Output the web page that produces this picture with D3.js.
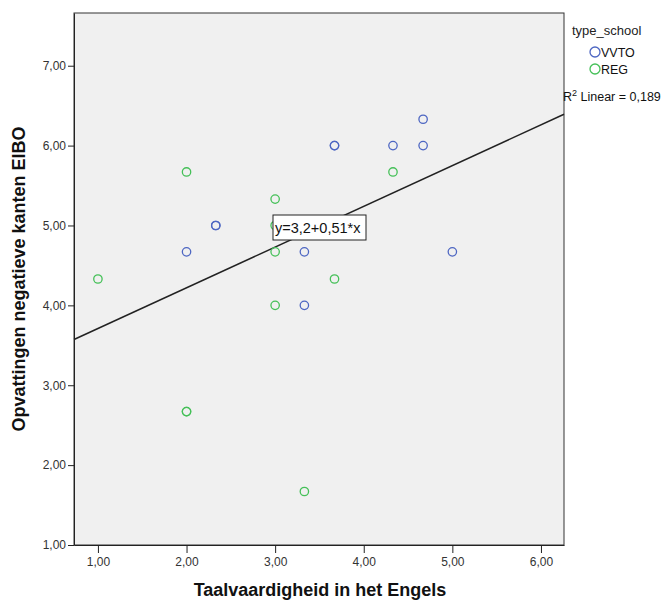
<!DOCTYPE html>
<html><head><meta charset="utf-8">
<script src="https://cdn.jsdelivr.net/npm/d3@7"></script>
<style>body{margin:0;background:#fff}svg{display:block}text{font-family:"Liberation Sans",Arial,sans-serif}</style>
</head><body><svg id="c" width="668" height="600"></svg>
<script>
const xTicks = [1,2,3,4,5,6];
const yTicks = [1,2,3,4,5,6,7];
const vvtoX = [2, 2.33, 2.33, 3.67, 3.67, 4.33, 4.67, 4.67, 3.33, 3.33, 5];
const vvtoY = [4.67, 5, 5, 6, 6, 6, 6.33, 6, 4.67, 4, 4.67];
const regX = [1, 2, 2, 2, 3, 3, 3, 3, 3.67, 4.33, 3.33];
const regY = [4.33, 5.67, 2.67, 2.67, 5.33, 5, 4.67, 4, 4.33, 5.67, 1.67];
const seriesNames = ["VVTO", "REG"];
const fitIntercept = 3.2, fitSlope = 0.51;
const fitLabel = "y=3,2+0,51*x";
const r2Label = "Linear = 0,189";

const svg = d3.select("#c");
const x = d3.scaleLinear().domain([0.73, 6.26]).range([74, 564]);
const y = d3.scaleLinear().domain([1, 7.66]).range([545, 13]);
const fmt = d => d3.format(".2f")(d).replace(".", ",");
const colors = ["#4d66c2", "#45c058"];

svg.append("rect").attr("x", 74).attr("y", 13).attr("width", 490).attr("height", 532)
  .attr("fill", "#f0f0f0").attr("stroke", "#333").attr("stroke-width", 1);

const xa = svg.append("g").attr("transform", "translate(0,545)")
  .call(d3.axisBottom(x).tickValues(xTicks).tickFormat(fmt).tickSize(8).tickSizeOuter(0));
const ya = svg.append("g").attr("transform", "translate(74,0)")
  .call(d3.axisLeft(y).tickValues(yTicks).tickFormat(fmt).tickSize(6).tickSizeOuter(0));
[xa, ya].forEach(a => {
  a.select(".domain").attr("stroke", "#222");
  a.selectAll(".tick line").attr("stroke", "#222");
  a.selectAll(".tick text").attr("fill", "#333").style("font-size", "12px");
});
xa.selectAll(".tick text").attr("dy", "0.85em");
ya.selectAll(".tick text").attr("x", -8);

// fit line
const xd = x.domain();
svg.append("line")
  .attr("x1", x(xd[0])).attr("y1", y(fitIntercept + fitSlope * xd[0]))
  .attr("x2", x(xd[1])).attr("y2", y(fitIntercept + fitSlope * xd[1]))
  .attr("stroke", "#222").attr("stroke-width", 1.5);

const series = [[vvtoX, vvtoY], [regX, regY]];
series.forEach((s, i) => {
  svg.append("g").selectAll("circle").data(s[0].map((v, j) => [v, s[1][j]])).join("circle")
    .attr("cx", d => x(d[0])).attr("cy", d => y(d[1])).attr("r", 4.2)
    .attr("fill", "none").attr("stroke", colors[i]).attr("stroke-width", 1.3);
});

// equation label
const lx = 273, ly = 215;
const eq = svg.append("g");
eq.append("rect").attr("x", lx).attr("y", ly).attr("width", 93).attr("height", 25)
  .attr("fill", "#fff").attr("stroke", "#222").attr("stroke-width", 1);
eq.append("text").attr("x", lx + 2).attr("y", ly + 18).attr("font-size", 14.5).attr("fill", "#111").text(fitLabel);

// legend
svg.append("text").attr("x", 572).attr("y", 35).attr("font-size", 13).attr("fill", "#222").text("type_school");
seriesNames.forEach((n, i) => {
  svg.append("circle").attr("cx", 595).attr("cy", 52 + i * 17).attr("r", 5)
    .attr("fill", "none").attr("stroke", colors[i]).attr("stroke-width", 1.3);
  svg.append("text").attr("x", 601).attr("y", 56.5 + i * 17).attr("font-size", 12.5).attr("fill", "#111").text(n);
});
const r2 = svg.append("text").attr("x", 563).attr("y", 101).attr("font-size", 12.5).attr("fill", "#111");
r2.append("tspan").text("R");
r2.append("tspan").attr("dy", -5).attr("font-size", 9).text("2");
r2.append("tspan").attr("dy", 5).text(" " + r2Label);

// axis titles
svg.append("text").attr("x", 320).attr("y", 596).attr("text-anchor", "middle")
  .attr("font-size", 18).attr("font-weight", "bold").attr("fill", "#111").text("Taalvaardigheid in het Engels");
svg.append("text").attr("transform", "translate(25,279) rotate(-90)").attr("text-anchor", "middle")
  .attr("font-size", 18).attr("font-weight", "bold").attr("fill", "#111").text("Opvattingen negatieve kanten EIBO");
</script></body></html>
